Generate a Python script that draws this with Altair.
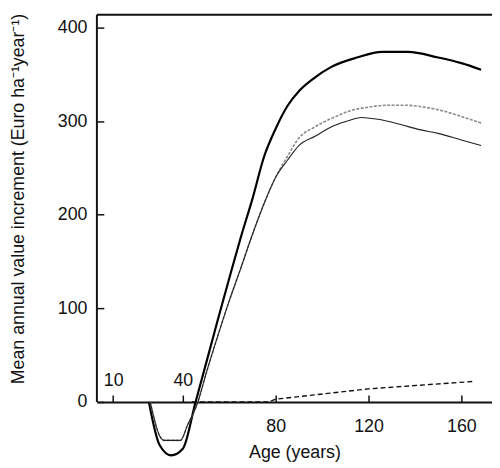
import altair as alt
import pandas as pd

# ---- data ----
# thick black curve
age_black = [25.4, 30, 35, 40, 45.5, 50, 55, 60, 65, 70, 75, 80, 85, 90, 96, 104, 115, 126, 137, 150, 160, 168.5]
val_black = [0, -46, -57, -50, 0, 41, 87, 132, 176, 217, 262, 292, 316, 332, 345, 358, 368, 374, 374, 368, 362, 355]

# grey dotted curve
age_grey = [26, 30, 32, 39, 42, 46.5, 50, 55, 60, 65, 69, 76, 80, 85, 90, 97, 105, 112, 120, 128, 136, 144, 152, 160, 168.5]
val_grey = [0, -36, -41, -41, -25, 0, 30, 70, 108, 143, 172, 218, 240, 262, 282, 294, 304, 311, 315, 317, 317, 315, 311, 305, 298]

# thin black curve
age_thin = [26, 30, 32, 39, 42, 46.5, 50, 55, 60, 65, 69, 76, 80, 85, 90, 97, 105, 112, 117, 124, 133, 142, 150, 160, 168.5]
val_thin = [0, -36, -41, -41, -25, 0, 30, 70, 108, 143, 172, 218, 240, 258, 274, 284, 295, 301, 304, 302, 297, 291, 287, 280, 274]

# dashed curve
age_dash = [44, 77, 80, 120, 165.5]
val_dash = [0, 0, 3, 14, 22]

# axis ticks and frame
x_ticks = [10, 40, 80, 120, 160]
x_ticks_below = [80, 120, 160]
y_ticks = [0, 100, 200, 300, 400]
x_domain = [3, 173.2]
y_domain = [-61.2, 413.7]

FONT = "Liberation Sans"
FS = 18

xs = alt.Scale(domain=x_domain, nice=False, zero=False)
ys = alt.Scale(domain=y_domain, nice=False, zero=False)

df_black = pd.DataFrame({"age": age_black, "v": val_black})
df_grey = pd.DataFrame({"age": age_grey, "v": val_grey})
df_thin = pd.DataFrame({"age": age_thin, "v": val_thin})
df_dash = pd.DataFrame({"age": age_dash, "v": val_dash})

top_axis = alt.Axis(orient="top", offset=-392, values=x_ticks, tickSize=7, tickWidth=1.5,
                    tickColor="#111", domainColor="#111", domainWidth=2,
                    labelExpr="datum.value < 60 ? datum.label : ''", labelPadding=6,
                    labelFontSize=FS, labelColor="#111", labelFont=FONT, grid=False, title=None)
bottom_axis = alt.Axis(orient="bottom", offset=-58, values=x_ticks_below, ticks=False, tickSize=0,
                       domain=False, labelPadding=16, labelFontSize=FS, labelColor="#111", labelFont=FONT,
                       title="Age (years)", titleFontSize=FS, titleFontWeight="normal", titleFont=FONT,
                       titleColor="#111", titlePadding=8, grid=False)
left_axis = alt.Axis(orient="left", values=y_ticks, ticks=False, tickSize=0, domain=False,
                     labelPadding=10, labelFontSize=FS, labelColor="#111", labelFont=FONT,
                     title="Mean annual value increment (Euro ha\u207b\u00b9year\u207b\u00b9)",
                     titleFontSize=FS, titleFontWeight="normal", titleFont=FONT, titleColor="#111",
                     titleX=-70, titleY=186, titleAngle=270, grid=False)
right_axis = alt.Axis(orient="right", offset=-400, values=y_ticks, tickSize=7, tickWidth=1.5,
                      tickColor="#111", labels=False, domain=False, grid=False, title=None)

black = alt.Chart(df_black).mark_line(color="#000", strokeWidth=2.2, interpolate="monotone").encode(
    x=alt.X("age:Q", scale=xs, axis=top_axis),
    y=alt.Y("v:Q", scale=ys, axis=left_axis),
    order="age:Q",
)
grey = alt.Chart(df_grey).mark_line(color="#8a8a8a", strokeWidth=1.6, strokeDash=[3, 1.5],
                                    interpolate="monotone").encode(
    x=alt.X("age:Q", scale=xs, axis=bottom_axis),
    y=alt.Y("v:Q", scale=ys, axis=right_axis),
    order="age:Q",
)
thin = alt.Chart(df_thin).mark_line(color="#222", strokeWidth=1.1, interpolate="monotone").encode(
    x=alt.X("age:Q", scale=xs, axis=None),
    y=alt.Y("v:Q", scale=ys, axis=None),
    order="age:Q",
)
dash = alt.Chart(df_dash).mark_line(color="#111", strokeWidth=1.4, strokeDash=[5, 3]).encode(
    x=alt.X("age:Q", scale=xs, axis=None),
    y=alt.Y("v:Q", scale=ys, axis=None),
    order="age:Q",
)

frame_left = pd.DataFrame({"x": [x_domain[0]], "y": [0], "y2": [y_domain[1]]})
frame_top = pd.DataFrame({"x": [x_domain[0]], "x2": [x_domain[1]], "y": [y_domain[1]]})

left_line = alt.Chart(frame_left).mark_rule(color="#111", strokeWidth=2).encode(
    x=alt.X("x:Q", scale=xs, axis=None),
    y=alt.Y("y:Q", scale=ys, axis=None),
    y2="y2:Q",
)
top_line = alt.Chart(frame_top).mark_rule(color="#111", strokeWidth=2).encode(
    x=alt.X("x:Q", scale=xs, axis=None),
    x2="x2:Q",
    y=alt.Y("y:Q", scale=ys, axis=None),
)

chart = alt.layer(black, grey, thin, dash, left_line, top_line).resolve_axis(
    x="independent", y="independent"
).properties(
    width=400, height=450,
    background="white",
    autosize=alt.AutoSizeParams(type="none"),
    padding={"left": 90, "top": 4, "right": 0, "bottom": 6},
).configure_view(stroke="transparent", strokeWidth=0)

chart.save("out.html", embed_options={"renderer": "svg", "actions": False})
